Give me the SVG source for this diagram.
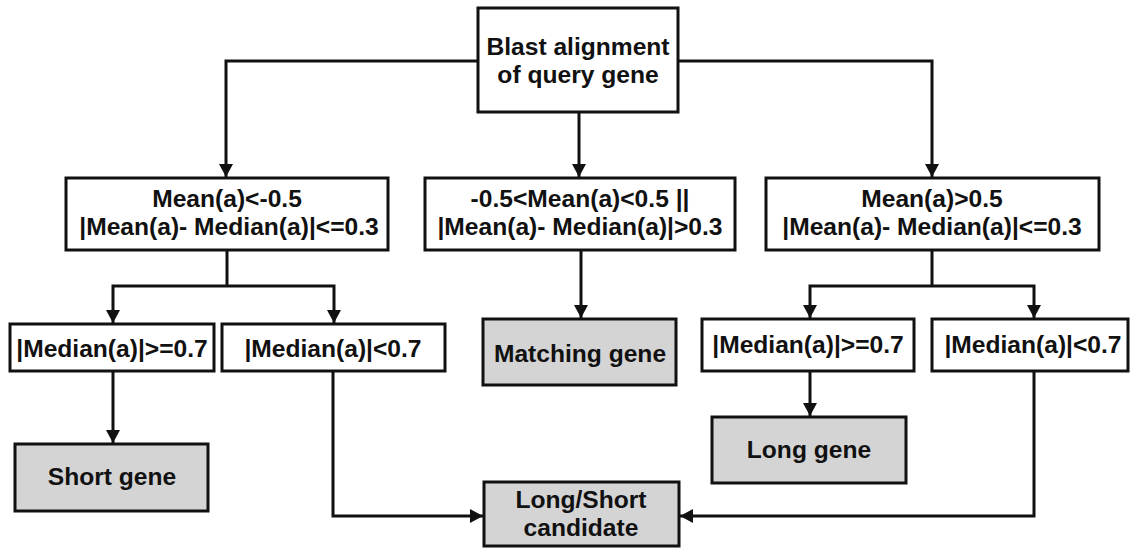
<svg xmlns="http://www.w3.org/2000/svg" width="1132" height="548" viewBox="0 0 1132 548">
<style>
.box{fill:#ffffff;stroke:#111;stroke-width:3}
.term{fill:#d4d4d4;stroke:#111;stroke-width:3}
.lbl{font-family:"Liberation Sans",Arial,sans-serif;font-weight:bold;font-size:24.6px;fill:#111;text-anchor:middle}
.con{fill:none;stroke:#111;stroke-width:3}
</style>
<defs>
<marker id="arr" markerUnits="userSpaceOnUse" markerWidth="14" markerHeight="14" refX="13" refY="7" orient="auto">
<path d="M0,0 L13,7 L0,14 z" fill="#111"/>
</marker>
</defs>
<rect width="1132" height="548" fill="#ffffff"/>
<g id="connectors">
<path class="con" d="M478,61 H226 V177" marker-end="url(#arr)"/>
<path class="con" d="M579,112 V177" marker-end="url(#arr)"/>
<path class="con" d="M678,61 H932 V177" marker-end="url(#arr)"/>
<path class="con" d="M227,250 V286"/>
<path class="con" d="M227,286 H113 V323" marker-end="url(#arr)"/>
<path class="con" d="M227,286 H334 V323" marker-end="url(#arr)"/>
<path class="con" d="M581,250 V318" marker-end="url(#arr)"/>
<path class="con" d="M932,250 V286"/>
<path class="con" d="M932,286 H810 V318" marker-end="url(#arr)"/>
<path class="con" d="M932,286 H1034 V318" marker-end="url(#arr)"/>
<path class="con" d="M113,371 V443" marker-end="url(#arr)"/>
<path class="con" d="M333,371 V516 H483" marker-end="url(#arr)"/>
<path class="con" d="M810,371 V416" marker-end="url(#arr)"/>
<path class="con" d="M1034,371 V516 H680" marker-end="url(#arr)"/>
</g>
<g id="blast">
<rect class="box" x="478" y="8" width="200" height="104"/>
<text class="lbl" x="578" y="55">Blast alignment</text>
<text class="lbl" x="578" y="83">of query gene</text>
</g>
<g id="cond-low">
<rect class="box" x="66" y="178" width="322" height="72"/>
<text class="lbl" x="227" y="207">Mean(a)&lt;-0.5</text>
<text class="lbl" x="229" y="235">|Mean(a)- Median(a)|&lt;=0.3</text>
</g>
<g id="cond-mid">
<rect class="box" x="425" y="178" width="310" height="72"/>
<text class="lbl" x="580" y="207">-0.5&lt;Mean(a)&lt;0.5 ||</text>
<text class="lbl" x="580" y="235">|Mean(a)- Median(a)|&gt;0.3</text>
</g>
<g id="cond-high">
<rect class="box" x="766" y="178" width="333" height="72"/>
<text class="lbl" x="932" y="207">Mean(a)&gt;0.5</text>
<text class="lbl" x="932" y="235">|Mean(a)- Median(a)|&lt;=0.3</text>
</g>
<g id="low-ge">
<rect class="box" x="10" y="324" width="204" height="47"/>
<text class="lbl" x="112" y="357">|Median(a)|&gt;=0.7</text>
</g>
<g id="low-lt">
<rect class="box" x="222" y="324" width="223" height="47"/>
<text class="lbl" x="333" y="357">|Median(a)|&lt;0.7</text>
</g>
<g id="high-ge">
<rect class="box" x="702" y="319" width="212" height="52"/>
<text class="lbl" x="808" y="353">|Median(a)|&gt;=0.7</text>
</g>
<g id="high-lt">
<rect class="box" x="932" y="319" width="196" height="52"/>
<text class="lbl" x="1033" y="353">|Median(a)|&lt;0.7</text>
</g>
<g id="matching">
<rect class="term" x="483" y="319" width="193" height="66"/>
<text class="lbl" x="580" y="362">Matching gene</text>
</g>
<g id="short">
<rect class="term" x="15" y="444" width="193" height="67"/>
<text class="lbl" x="112" y="485">Short gene</text>
</g>
<g id="long">
<rect class="term" x="712" y="417" width="194" height="66"/>
<text class="lbl" x="809" y="458">Long gene</text>
</g>
<g id="candidate">
<rect class="term" x="484" y="482" width="195" height="64"/>
<text class="lbl" x="581" y="508">Long/Short</text>
<text class="lbl" x="581" y="536">candidate</text>
</g>
</svg>
